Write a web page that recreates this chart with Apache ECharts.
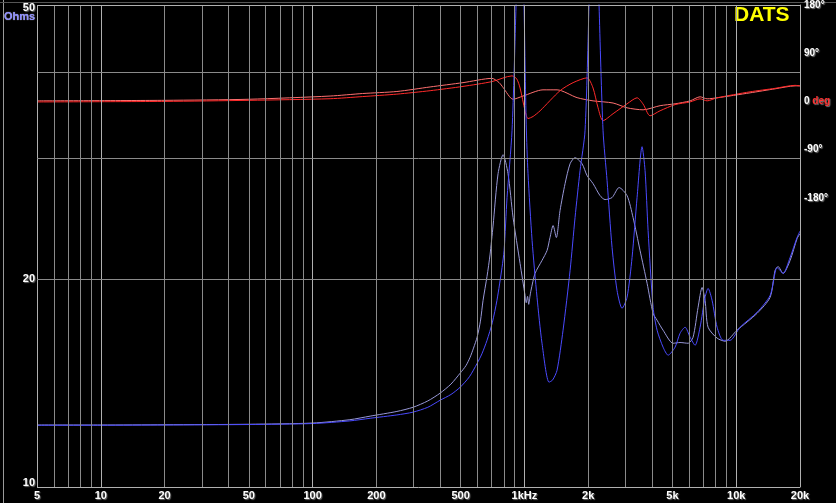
<!DOCTYPE html>
<html><head><meta charset="utf-8">
<script src="https://cdn.jsdelivr.net/npm/echarts@6/dist/echarts.min.js"></script>
<style>html,body{margin:0;padding:0;background:#000;}#c{width:836px;height:503px;}</style>
</head><body><div id="c"></div>
<script>
// Impedance curve A (lavender), [Hz, Ohm]
const impedanceA = [[5,12.3],[10,12.3],[20,12.31],[50,12.33],[100,12.38],[150,12.52],[187,12.67],[250,12.87],[298,13.05],[350,13.33],[400,13.68],[450,14.1],[497,14.62],[530,15.0],[554,15.42],[575,15.9],[598,16.49],[620,17.4],[638,18.65],[666,20.2],[688,21.7],[711,23.9],[751,28.47],[793,30.33],[837,28.47],[884,24.6],[954,21.09],[1007,18.96],[1020,18.5],[1035,18.9],[1048,18.4],[1062,18.9],[1075,19.3],[1122,20.4],[1211,21.31],[1279,22.03],[1321,23.01],[1366,23.94],[1415,23.0],[1473,25.17],[1556,27.54],[1643,29.43],[1734,30.03],[1871,29.43],[1976,28.29],[2109,27.54],[2275,26.46],[2403,26.11],[2593,26.29],[2798,27.18],[3052,26.46],[3258,24.59],[3515,22.03],[3795,19.74],[4050,17.86],[4230,17.45],[4515,16.88],[5033,16.16],[5430,16.2],[5924,16.16],[6255,16.49],[6605,18.22],[6899,19.47],[7127,18.65],[7363,17.05],[8121,16.44],[8860,16.27],[10090,16.88],[12540,17.86],[14450,18.84],[15255,20.61],[15760,20.88],[16640,20.4],[17960,21.31],[19380,22.93],[20000,23.3]];
// Impedance curve B (blue), [Hz, Ohm]
const impedanceB = [[5,12.29],[10,12.29],[20,12.3],[50,12.32],[100,12.36],[150,12.47],[187,12.58],[250,12.72],[298,12.84],[350,13.05],[400,13.36],[450,13.62],[497,13.95],[550,14.45],[598,15.11],[630,15.6],[666,16.32],[705,17.3],[742,18.65],[784,20.81],[802,22.03],[828,26.29],[874,32.86],[913,50],[935,68],[954,75],[975,68],[996,50],[1020,33.5],[1040,28.47],[1087,22.78],[1147,18.84],[1211,16.16],[1307,14.19],[1360,14.3],[1426,14.77],[1522,16.88],[1643,20.61],[1734,24.59],[1831,28.76],[1933,32.86],[2018,50],[2070,70],[2132,78],[2190,70],[2251,50],[2351,32.86],[2456,27.81],[2593,22.25],[2737,19.28],[2890,18.16],[3052,18.84],[3223,21.52],[3403,26.29],[3593,31.15],[3712,28.76],[3836,23.55],[4050,18.22],[4230,16.88],[4515,15.95],[4768,15.53],[5143,15.95],[5430,16.71],[5735,17.05],[6055,16.49],[6394,16.05],[6750,17.05],[7127,18.84],[7363,19.41],[7691,18.65],[8121,17.05],[8670,16.32],[9354,16.32],[10425,17.05],[12540,17.92],[14450,18.96],[15590,20.81],[16105,20.61],[16640,20.4],[17960,21.52],[19380,23.01],[20000,23.5]];
// Phase curve A (pale red), [Hz, deg]
const phaseA = [[5,1],[20,2],[50,4],[121,10],[172,14.7],[250,18.5],[359,27],[513,35],[703,43],[760,35],[793,26],[884,4],[985,10],[1224,21.6],[1426,21.6],[1773,7],[2109,1],[2621,-3],[3052,-12],[3633,-15.7],[4370,-8],[5143,-4.5],[6055,1],[6750,8.6],[7285,4.8],[8121,6.7],[11625,16],[15255,23.5],[18965,29],[20000,29]];
// Phase curve B (red), [Hz, deg]
const phaseB = [[5,-1],[20,0],[50,2],[121,5],[172,9],[250,13.6],[359,20],[513,28],[703,37],[874,47.7],[920,42],[954,25],[1007,-17.5],[1040,-32],[1100,-28],[1186,-17.5],[1473,20],[1697,35],[1976,44],[2109,25],[2227,-12],[2351,-36],[2621,-23],[3052,-4.5],[3403,6.7],[3633,-5],[3920,-26.8],[4370,-17.5],[5143,-6],[6055,-1],[6750,4.8],[7285,1],[8121,6.7],[11625,17.9],[15255,24.4],[18965,30],[20000,29]];

const xGridFreqs = [5,6,7,8,9,10,20,30,40,50,60,70,80,90,100,200,300,400,500,600,700,800,900,1000,2000,3000,4000,5000,6000,7000,8000,9000,10000,20000];
const xDecades = [5,10,100,1000,10000,20000];
const xTickValues = [5,10,20,50,100,200,500,1000,2000,5000,10000,20000];
const xTickLabels = ['5','10','20','50','100','200','500','1kHz','2k','5k','10k','20k'];
const yGridOhms = [10,20,30,40,50];
const yTickValues = [50,20,10];
const yTickLabels = ['50','20','10'];
const phaseTickValues = [180,90,0,-90,-180];
const phaseTickLabels = ['{w|180°}','{w|90°}','{w|0} {r|deg}','{w|-90°}','{w|-180°}'];

const FONT = '"Liberation Sans", Arial, sans-serif';
const lblBase = {color:'#ffffff', fontWeight:'bold', fontSize:11, fontFamily:FONT, textShadowColor:'#666', textShadowBlur:1, textShadowOffsetX:1, textShadowOffsetY:1};

const xLines = xGridFreqs.map(f => {
  const i = xTickValues.indexOf(f);
  const item = {xAxis: f, lineStyle:{color: xDecades.includes(f) ? '#b0b0b0' : '#8a8a8a', width:1, type:'solid'}};
  item.label = i >= 0 ? Object.assign({show:true, position:'start', distance:3, formatter: xTickLabels[i]}, lblBase) : {show:false};
  return item;
});
const yLines = yGridOhms.map(v => {
  const i = yTickValues.indexOf(v);
  const item = {yAxis: v, lineStyle:{color: (v===10||v===50) ? '#b0b0b0' : '#8a8a8a', width:1, type:'solid'}};
  let off = [0,0];
  if (v === 50) off = [0,3];
  if (v === 10) off = [0,-4];
  item.label = i >= 0 ? Object.assign({show:true, position:'start', distance:2, offset: off, formatter: yTickLabels[i]}, lblBase) : {show:false};
  return item;
});

const chart = echarts.init(document.getElementById('c'));
const curve = (name, axis, data, color) => ({name, type:'line', yAxisIndex:axis, data, showSymbol:false, smooth:0.25,
  lineStyle:{color, width:1}, itemStyle:{color}});
chart.setOption({
  animation:false,
  backgroundColor:'#000000',
  grid:{left:37, right:36, top:4, bottom:16},
  xAxis:{type:'log', logBase:10, min:5, max:20000, axisLabel:{show:false}, axisTick:{show:false}, axisLine:{show:false}, splitLine:{show:false}, minorSplitLine:{show:false}},
  yAxis:[
    {type:'log', logBase:10, min:10, max:50, axisLabel:{show:false}, axisTick:{show:false}, axisLine:{show:false}, splitLine:{show:false}},
    {type:'value', position:'right', min:-720, max:180, interval:90, splitLine:{show:false}, axisTick:{show:false},
     axisLine:{show:true, lineStyle:{color:'#b0b0b0'}},
     axisLabel:{margin:4, fontSize:10, fontWeight:'bold', fontFamily:FONT, color:'#ffffff', textShadowColor:'#777', textShadowBlur:1, textShadowOffsetX:1, textShadowOffsetY:1,
       formatter: v => { const i = phaseTickValues.indexOf(v); return i >= 0 ? phaseTickLabels[i] : ''; },
       rich:{w:{color:'#ffffff', fontSize:10, fontWeight:'bold', fontFamily:FONT}, r:{color:'#ff3030', fontSize:10, fontWeight:'bold', fontFamily:FONT}}}}
  ],
  series:[
    {name:'grid', type:'line', data:[], silent:true,
     markLine:{silent:true, symbol:['none','none'], animation:false, data: xLines.concat(yLines)}},
    curve('phaseA', 1, phaseA, '#ff7070'),
    curve('phaseB', 1, phaseB, '#ff2a2a'),
    curve('impA', 0, impedanceA, '#9898d8'),
    curve('impB', 0, impedanceB, '#4a4aff')
  ],
  graphic:[
    {type:'line', shape:{x1:3.5, y1:0, x2:3.5, y2:503}, style:{stroke:'#9a9a9a', lineWidth:1}, silent:true},
    {type:'line', shape:{x1:0, y1:2.5, x2:836, y2:2.5}, style:{stroke:'#555', lineWidth:1}, silent:true},
    {type:'text', left:4, top:11, style:{text:'Ohms', fill:'#8c8cff', font:'bold 11px ' + FONT, textShadowColor:'#ccc', textShadowBlur:1}},
    {type:'text', left:734, top:5, style:{text:'DATS', fill:'#ffff00', font:'bold 21px ' + FONT}}
  ]
});
</script></body></html>
